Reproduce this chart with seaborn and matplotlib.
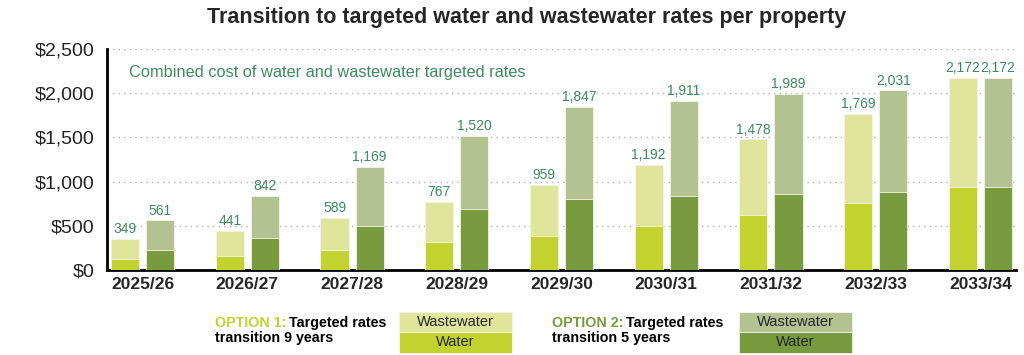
import pandas as pd
import seaborn as sns
import matplotlib
matplotlib.use('Agg')
from matplotlib import pyplot as plt
from matplotlib.patches import Rectangle
from matplotlib.ticker import FuncFormatter

# chart values
years = ['2025/26', '2026/27', '2027/28', '2028/29', '2029/30',
         '2030/31', '2031/32', '2032/33', '2033/34']
opt1_total = [349, 441, 589, 767, 959, 1192, 1478, 1769, 2172]
opt2_total = [561, 842, 1169, 1520, 1847, 1911, 1989, 2031, 2172]
opt1_water = [128, 162, 223, 317, 386, 495, 619, 758, 941]
opt2_water = [226, 358, 501, 686, 806, 840, 859, 878, 941]
options = ['Option 1', 'Option 2']

df = pd.DataFrame({
    'year': years * 2,
    'option': [options[0]] * len(years) + [options[1]] * len(years),
    'total': opt1_total + opt2_total,
    'water': opt1_water + opt2_water,
})

c1_ww, c1_w = '#dfe69b', '#c2d22f'
c2_ww, c2_w = '#b4c291', '#789b3d'
label_green = '#3d8a5f'

sns.set_style('white')
plt.rcParams['font.family'] = ['Liberation Sans', 'DejaVu Sans']

W, H = 1024, 355
fig = plt.figure(figsize=(W / 100, H / 100), dpi=100)
ax = fig.add_axes([107 / W, 1 - 270 / H, (1016 - 107) / W, (270 - 49) / H])


def fx(x):
    return x / W


def fy(y):
    return 1 - y / H


# totals first (wastewater shows above water), then water on top
sns.barplot(data=df, x='year', y='total', hue='option', hue_order=options,
            palette=[c1_ww, c2_ww], width=0.67, gap=0.2, saturation=1,
            edgecolor='#f4f4ea', linewidth=0.6, legend=False, ax=ax, zorder=2)
sns.barplot(data=df, x='year', y='water', hue='option', hue_order=options,
            palette=[c1_w, c2_w], width=0.67, gap=0.2, saturation=1,
            edgecolor='#f4f4ea', linewidth=0.6, legend=False, ax=ax, zorder=3)

for cont in ax.containers[:2]:
    ax.bar_label(cont, labels=[f'{v:,.0f}' for v in cont.datavalues],
                 padding=2, color=label_green, fontsize=10)

ax.set_xlim(-0.34, 8.34)
ax.set_ylim(0, 2500)
ax.set_yticks([0, 500, 1000, 1500, 2000, 2500])
ax.yaxis.set_major_formatter(FuncFormatter(lambda v, p: f'${v:,.0f}'))
ax.set_xlabel('')
ax.set_ylabel('')
ax.tick_params(axis='y', length=0, pad=9, labelsize=14, labelcolor='#222222')
ax.tick_params(axis='x', length=0, pad=5, labelsize=12.5)
for lab in ax.get_xticklabels():
    lab.set_fontweight('bold')

ax.grid(axis='y', color='#b0b0b0', linestyle=(0, (1, 3)), linewidth=1, zorder=0)
ax.set_axisbelow(True)
for s in ['top', 'right']:
    ax.spines[s].set_visible(False)
ax.spines['left'].set_linewidth(2)
ax.spines['bottom'].set_linewidth(2)
ax.spines['left'].set_color('black')
ax.spines['bottom'].set_color('black')

fig.text(fx(129), fy(72), 'Combined cost of water and wastewater targeted rates',
         color=label_green, fontsize=11.8, va='center')

fig.text(fx(527), fy(17),
         'Transition to targeted water and wastewater rates per property',
         ha='center', va='center', fontsize=15.5, fontweight='bold')

# legend blocks
legend_items = [
    (215, 'OPTION 1:', 'transition 9 years', c1_w, c1_ww, 399),
    (552, 'OPTION 2:', 'transition 5 years', c2_w, c2_ww, 739),
]
fig.canvas.draw()
renderer = fig.canvas.get_renderer()
for x0, head, line2, cw, cww, bx in legend_items:
    t = fig.text(fx(x0), fy(323), head, color=cw, fontsize=10.3,
                 fontweight='bold', va='center')
    bb = t.get_window_extent(renderer)
    fig.text(bb.x1 / W + 3 / W, fy(323), 'Targeted rates', color='black',
             fontsize=10.3, fontweight='bold', va='center')
    fig.text(fx(x0), fy(338), line2, color='black', fontsize=10.3,
             fontweight='bold', va='center')
    bw = 113
    fig.add_artist(Rectangle((fx(bx), fy(332.3)), bw / W, 20 / H,
                             transform=fig.transFigure, facecolor=cww,
                             edgecolor='#f4f4ea', linewidth=0.6))
    fig.add_artist(Rectangle((fx(bx), fy(352.7)), bw / W, 20.4 / H,
                             transform=fig.transFigure, facecolor=cw,
                             edgecolor='#f4f4ea', linewidth=0.6))
    fig.text(fx(bx + bw / 2), fy(322), 'Wastewater', ha='center',
             va='center', fontsize=10.5)
    fig.text(fx(bx + bw / 2), fy(342.5), 'Water', ha='center',
             va='center', fontsize=10.5)

fig.savefig('out.png', dpi=100)
